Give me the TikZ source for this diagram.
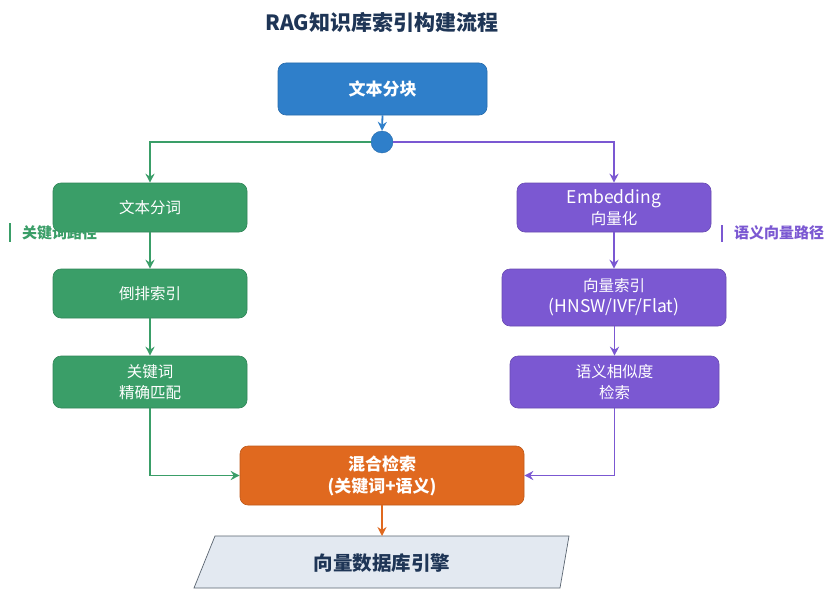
\documentclass[tikz,border=0pt]{standalone}
\usepackage{fontspec}
\setmainfont{Noto Sans CJK SC}
\usetikzlibrary{arrows.meta}
\definecolor{cblue}{HTML}{2F7FCA}
\definecolor{cgreen}{HTML}{3A9E68}
\definecolor{cpurple}{HTML}{7B58D2}
\definecolor{corange}{HTML}{E0691F}
\definecolor{cnavy}{HTML}{1E3556}
\definecolor{cdbfill}{HTML}{E3E9F1}
\definecolor{cdbline}{HTML}{5A6470}
\newcommand{\latn}[1]{{\fontsize{17.5}{21}\selectfont #1}}
\begin{document}
\begin{tikzpicture}[x=1pt,y=-1pt,
  box/.style={rounded corners=8pt, text=white, align=center, inner sep=0pt, line width=0.6pt},
  gbox/.style={box, fill=cgreen, draw=cgreen!85!black},
  pbox/.style={box, fill=cpurple, draw=cpurple!85!black},
  txt/.style={font=\fontsize{15.5}{21}\selectfont},
  btxt/.style={font=\fontsize{17}{22}\selectfont\bfseries},
  arr/.style={line width=1.8pt, -{Stealth[length=9pt,width=9pt,inset=3pt]}},
  lbl/.style={font=\fontsize{15}{16}\selectfont\bfseries, anchor=west, inner sep=0pt}
]
\useasboundingbox (0,0) rectangle (840,594);
\fill[white] (0,0) rectangle (840,594);

\node[font=\fontsize{21}{24}\selectfont\bfseries, text=cnavy] (title) at (382,22) {RAG知识库索引构建流程};

\node[box, fill=cblue, draw=cblue!85!black, minimum width=209pt, minimum height=52pt, btxt] (chunk) at (382.5,89) {文本分块};
\node[circle, fill=cblue, draw=cblue!85!black, minimum size=22pt, inner sep=0pt] (hub) at (382,142) {};

\node[gbox, txt, minimum width=194pt, minimum height=49pt] (seg) at (150,207.5) {文本分词};
\node[gbox, txt, minimum width=194pt, minimum height=49pt] (inv) at (150,293.5) {倒排索引};
\node[gbox, txt, minimum width=194pt, minimum height=52pt] (kw) at (150,382) {关键词\\精确匹配};

\node[pbox, txt, minimum width=194pt, minimum height=49pt] (emb) at (614,207.5) {\latn{Embedding}\\向量化};
\node[pbox, txt, minimum width=224pt, minimum height=57pt] (vidx) at (614,297.5) {向量索引\\\latn{(HNSW/IVF/Flat)}};
\node[pbox, txt, minimum width=209pt, minimum height=52pt] (sem) at (614.5,382) {语义相似度\\检索};

\node[box, fill=corange, draw=corange!85!black, minimum width=284pt, minimum height=59pt, btxt] (hyb) at (382,475.5) {混合检索\\(关键词+语义)};

\fill[cdbfill] (215,536) -- (569,536) -- (560,588) -- (194,588) -- cycle;
\draw[cdbline, line width=0.7pt] (215,536) -- (569,536) -- (560,588) -- (194,588) -- cycle;
\coordinate (dbtop) at (382,536);
\node[font=\fontsize{19.5}{22}\selectfont\bfseries, text=cnavy] (db) at (382,563) {向量数据库引擎};

% path labels
\draw[cgreen, line width=2pt] (10,223) -- (10,242);
\node[lbl, text=cgreen] (kwlbl) at (22,233) {关键词路径};
\draw[cpurple, line width=2pt] (722,225) -- (722,242);
\node[lbl, text=cpurple] (semlbl) at (734,233) {语义向量路径};

% connectors
\draw[arr, cblue] (chunk.south) -- (hub.north);
\draw[arr, cgreen] (hub.west) -| (seg.north);
\draw[arr, cpurple] (hub.east) -| (emb.north);
\draw[arr, cgreen] (seg) -- (inv);
\draw[arr, cgreen] (inv) -- (kw);
\draw[arr, cpurple] (emb) -- (vidx);
\draw[arr, cpurple] (vidx.south -| sem.north) -- (sem.north);
\draw[arr, cgreen] (kw.south) |- (hyb.west);
\draw[arr, cpurple] (sem.south) |- (hyb.east);
\draw[arr, corange] (hyb.south) -- (dbtop);
\end{tikzpicture}
\end{document}
